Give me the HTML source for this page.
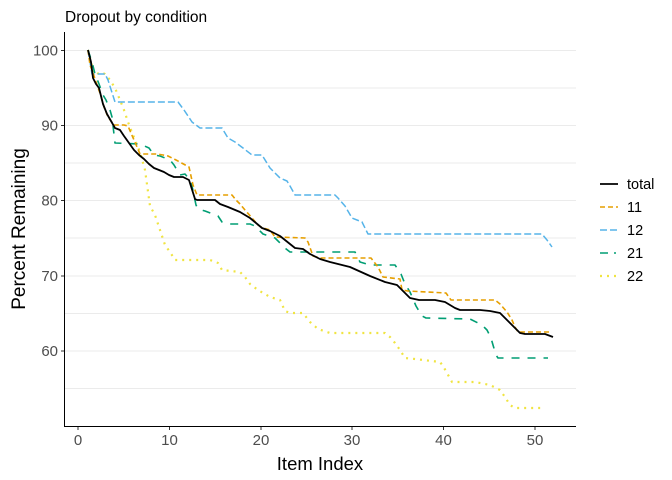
<!DOCTYPE html>
<html><head><meta charset="utf-8"><style>
html,body{margin:0;padding:0;background:#fff;}
svg{display:block;font-family:"Liberation Sans",Arial,sans-serif;}
</style></head><body>
<svg width="672" height="480" viewBox="0 0 672 480" xmlns="http://www.w3.org/2000/svg">
<rect width="672" height="480" fill="#fff"/>
<g stroke="#ebebeb" stroke-width="1">
<line x1="64" x2="576" y1="50.5" y2="50.5"/>
<line x1="64" x2="576" y1="88" y2="88"/>
<line x1="64" x2="576" y1="125.5" y2="125.5"/>
<line x1="64" x2="576" y1="163" y2="163"/>
<line x1="64" x2="576" y1="200.5" y2="200.5"/>
<line x1="64" x2="576" y1="238" y2="238"/>
<line x1="64" x2="576" y1="276" y2="276"/>
<line x1="64" x2="576" y1="313.5" y2="313.5"/>
<line x1="64" x2="576" y1="351" y2="351"/>
<line x1="64" x2="576" y1="388.5" y2="388.5"/>
</g>
<g fill="none" stroke-linejoin="round">
<polyline stroke="#F0E442" stroke-width="2.2" stroke-dasharray="2,5" points="88,50 93,70 96,75 100,72 105,74 110,80 115,88 120,100 124,110 128,122 135,140 140,152 145,170 150,206 155,215 160,230 165,245 170,252 175,260 210,260 218,263 222,270 240,272 245,277 250,284 258,290 270,297 280,300 285,311 290,313 303,313 310,322 318,329 330,333 385,333 390,337 395,343 400,350 405,358 415,359 440,362 443,366 447,373 452,382 475,382 490,385 500,390 505,397 510,405 515,408 545,408"/>
<polyline stroke="#56B4E9" stroke-width="1.5" stroke-dasharray="7,3" points="88,50 92,74 105,74 108,80 115,102 178,102 184,110 192,122 200,128 222,128 228,138 235,142 243,148 252,155 262,155 270,168 280,178 287,181 290,186 295,195 335,195 338,198 345,206 352,218 362,222 368,234 542,234 547,240 552,247"/>
<polyline stroke="#009E73" stroke-width="1.6" stroke-dasharray="8,8" points="88,50 92,62 95,74 99,84 103,95 106,100 110,110 112,117 115,143 140,144 149,148 154,155 160,156 170,160 174,165 180,175 185,174 190,180 192,186 196,205 198,209 205,211 218,216 222,222 228,224 250,224 255,226 258,229 263,234 275,238 285,248 290,252 355,252 360,262 370,265 395,265 401,274 405,284 410,292 416,306 422,316 426,318 470,319 482,325 487,330 491,338 493,345 496,355 498,358 548,358"/>
<polyline stroke="#E69F00" stroke-width="1.6" stroke-dasharray="5,3" points="88,50 90,65 93,73 96,82 101,96 104,107 108,117 114,125 124,125 128,126 140,154 157,154 163,155 168,156 176,160 189,167 193,185 197,195 232,195 236,200 240,204 245,210 252,218 258,225 263,228 270,230 275,237 305,238 308,242 313,256 320,258 371,258 378,267 383,277 400,279 402,290 408,291 446,293 451,300 495,300 500,304 507,312 512,320 515,327 518,332 552,332"/>
<polyline stroke="#000" stroke-width="1.8" points="88,50 91,62 93,78 96,84 99,88 101,96 103,104 107,114 111,121 115,128 120,130 124,136 129,143 134,150 139,155 144,159 149,164 154,168 159,170 164,172 169,175 174,177 183,177 189,180 195,199 197,200 215,200 220,204 228,207 240,212 250,218 262,228 270,231 280,236 285,240 295,248 303,249 310,254 320,259 330,262 350,267 370,276 385,282 397,285 402,290 410,298 419,300 435,300 445,302 455,308 460,310 480,310 490,311 500,313 505,318 512,325 520,333 525,334 545,334 553,337"/>
</g>
<g stroke="#000" stroke-width="1">
<line x1="64.5" x2="64.5" y1="32" y2="426"/>
<line x1="64" x2="576" y1="426.5" y2="426.5"/>
</g>
<g stroke="#333" stroke-width="1">
<line x1="61" x2="64" y1="50.5" y2="50.5"/>
<line x1="61" x2="64" y1="125.5" y2="125.5"/>
<line x1="61" x2="64" y1="200.5" y2="200.5"/>
<line x1="61" x2="64" y1="276" y2="276"/>
<line x1="61" x2="64" y1="351" y2="351"/>
<line x1="78" x2="78" y1="427" y2="430"/>
<line x1="169.5" x2="169.5" y1="427" y2="430"/>
<line x1="261" x2="261" y1="427" y2="430"/>
<line x1="352" x2="352" y1="427" y2="430"/>
<line x1="443.5" x2="443.5" y1="427" y2="430"/>
<line x1="535" x2="535" y1="427" y2="430"/>
</g>
<g fill="#4d4d4d" font-size="15" text-anchor="end">
<text x="58" y="55.5">100</text>
<text x="58" y="130.5">90</text>
<text x="58" y="205.5">80</text>
<text x="58" y="281">70</text>
<text x="58" y="356">60</text>
</g>
<g fill="#4d4d4d" font-size="15" text-anchor="middle">
<text x="78" y="445">0</text>
<text x="169.5" y="445">10</text>
<text x="261" y="445">20</text>
<text x="352" y="445">30</text>
<text x="443.5" y="445">40</text>
<text x="535" y="445">50</text>
</g>
<text x="320" y="470" font-size="18.5" text-anchor="middle">Item Index</text>
<text transform="translate(25,229) rotate(-90)" font-size="19" text-anchor="middle">Percent Remaining</text>
<text x="65" y="22" font-size="15.5">Dropout by condition</text>
<g fill="none">
<line x1="600" x2="618" y1="184" y2="184" stroke="#000" stroke-width="1.8"/>
<line x1="600" x2="618" y1="207" y2="207" stroke="#E69F00" stroke-width="1.6" stroke-dasharray="5,3"/>
<line x1="600" x2="618" y1="230" y2="230" stroke="#56B4E9" stroke-width="1.5" stroke-dasharray="7,3"/>
<line x1="600" x2="618" y1="253" y2="253" stroke="#009E73" stroke-width="1.6" stroke-dasharray="8,6,2,6"/>
<line x1="600" x2="618" y1="276" y2="276" stroke="#F0E442" stroke-width="2.2" stroke-dasharray="2,5"/>
</g>
<g font-size="14.5" fill="#000">
<text x="627" y="189">total</text>
<text x="627" y="212">11</text>
<text x="627" y="235">12</text>
<text x="627" y="258">21</text>
<text x="627" y="281">22</text>
</g>
</svg>
</body></html>
